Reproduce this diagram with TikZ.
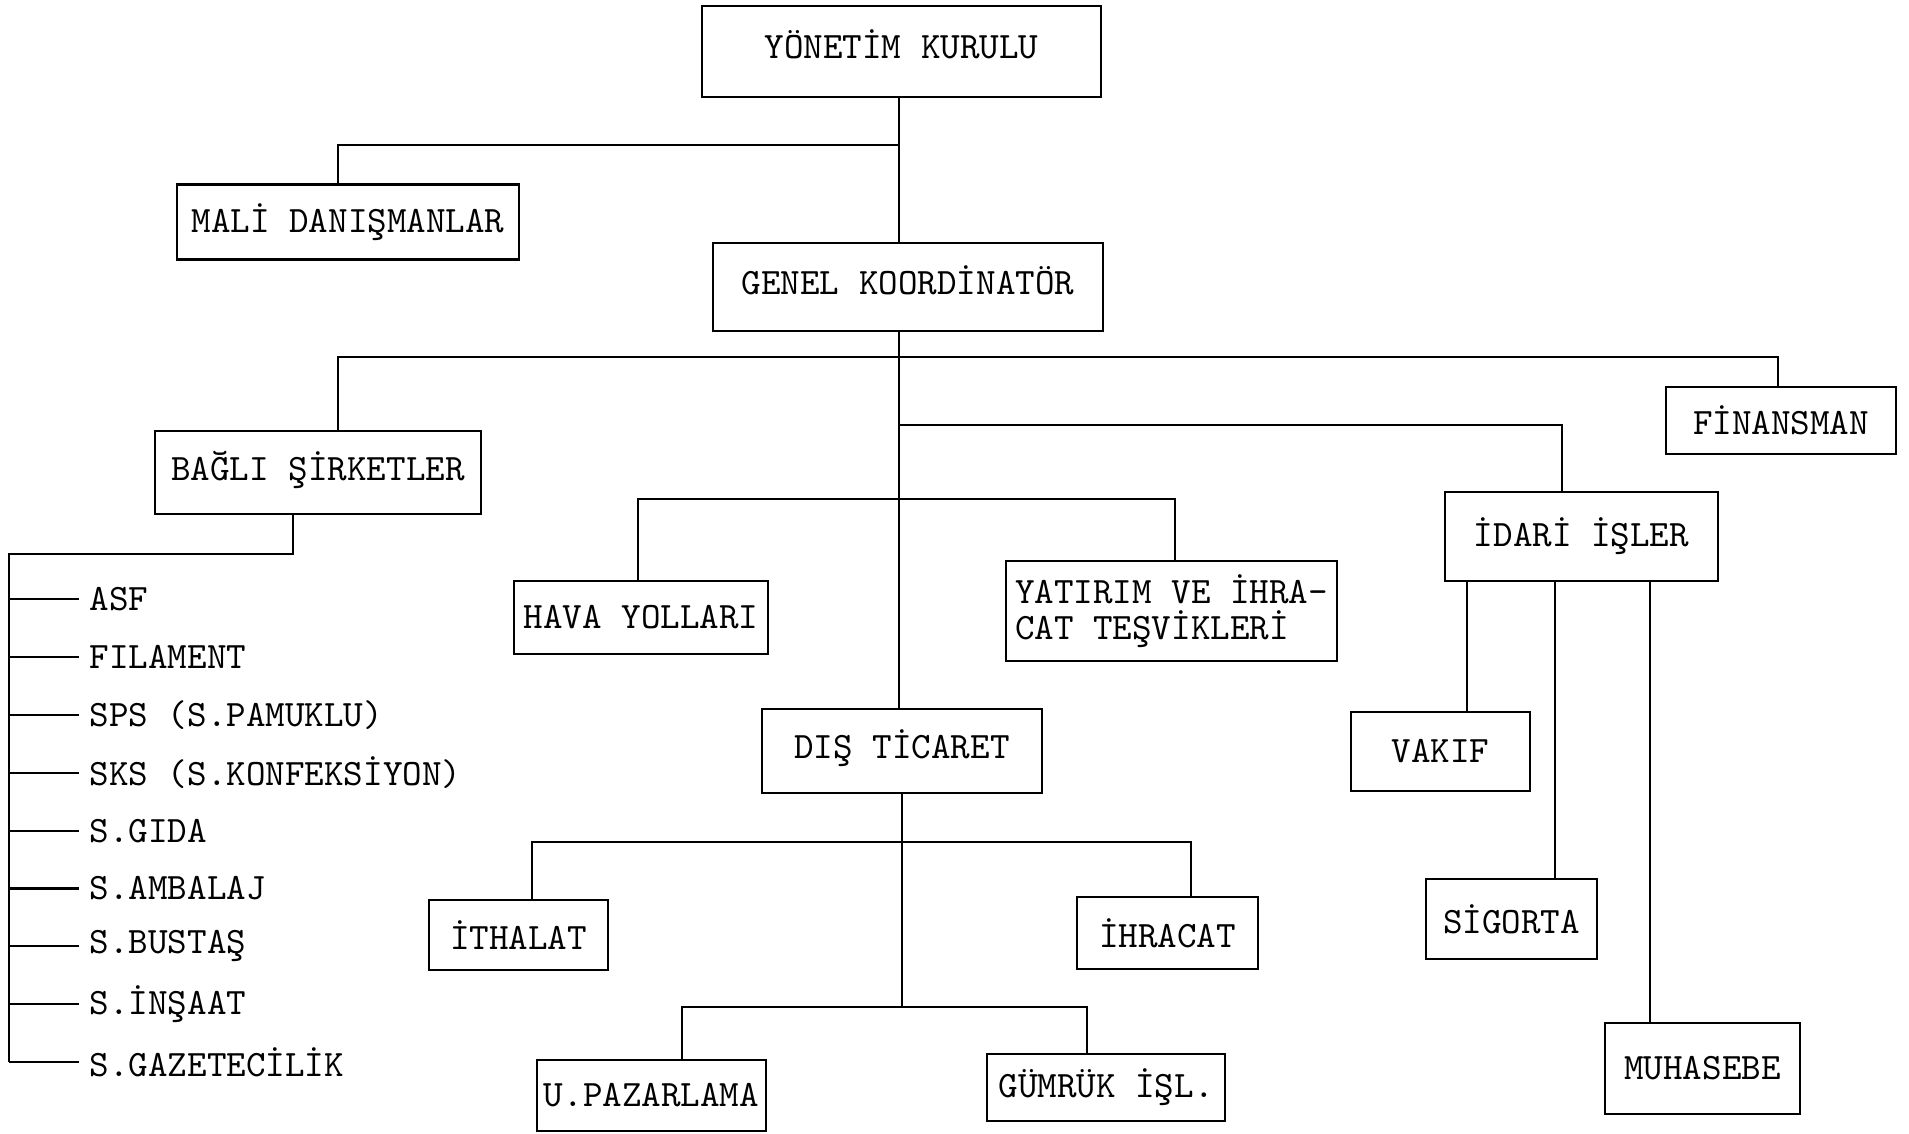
\documentclass[tikz,border=0pt]{standalone}
\usepackage{fontspec}
\usepackage{tikz}
\usetikzlibrary{calc, positioning}

\tikzset{
  kutu/.style={draw, line width=0.6pt, inner sep=0pt, align=center,
    font=\ttfamily\fontsize{10.6}{13}\selectfont},
  yukari/.style={text depth=4pt},
  liste/.style={anchor=west, inner sep=1mm,
    font=\ttfamily\fontsize{10.6}{13}\selectfont},
  hat/.style={line width=0.6pt}
}

\begin{document}
\begin{tikzpicture}[x=0.1mm, y=-0.1mm]
    \useasboundingbox (0,0) rectangle (1909,1133);

    % 1. Kutular
    \node[kutu, yukari, minimum width=39.9mm, minimum height=9.1mm] (yk) at (901.5,51.5) {YÖNETİM KURULU};
    \node[kutu, minimum width=34.2mm, minimum height=7.5mm] (mali) at (348,222) {MALİ DANIŞMANLAR};
    \node[kutu, yukari, minimum width=39mm, minimum height=8.8mm] (gk) at (908,287) {GENEL KOORDİNATÖR};
    \node[kutu, yukari, minimum width=32.6mm, minimum height=8.3mm] (bagli) at (318,472.5) {BAĞLI ŞİRKETLER};
    \node[kutu, minimum width=23mm, minimum height=6.7mm] (fin) at (1781,420.5) {FİNANSMAN};
    \node[kutu, minimum width=25.4mm, minimum height=7.3mm] (hava) at (641,617.5) {HAVA YOLLARI};
    \node[kutu, minimum width=33.1mm, minimum height=10mm, align=left,
          font=\ttfamily\fontsize{10.6}{10.2}\selectfont] (yat) at (1171.5,611) {YATIRIM VE İHRA-\\CAT TEŞVİKLERİ};
    \node[kutu, minimum width=27.3mm, minimum height=8.9mm] (idari) at (1581.5,536.5) {İDARİ İŞLER};
    \node[kutu, minimum width=17.9mm, minimum height=7.9mm] (vakif) at (1440.5,751.5) {VAKIF};
    \node[kutu, minimum width=17.1mm, minimum height=8mm] (sig) at (1511.5,919) {SİGORTA};
    \node[kutu, minimum width=19.5mm, minimum height=9.1mm] (muh) at (1702.5,1068.5) {MUHASEBE};
    \node[kutu, yukari, minimum width=28mm, minimum height=8.4mm] (dis) at (902,751) {DIŞ TİCARET};
    \node[kutu, minimum width=17.9mm, minimum height=7mm] (ith) at (518.5,935) {İTHALAT};
    \node[kutu, minimum width=18.1mm, minimum height=7.2mm] (ihr) at (1167.5,933) {İHRACAT};
    \node[kutu, minimum width=22.9mm, minimum height=7.1mm] (upaz) at (651.5,1095.5) {U.PAZARLAMA};
    \node[kutu, minimum width=23.8mm, minimum height=6.7mm] (gum) at (1106,1087.5) {GÜMRÜK İŞL.};

    % 2. Baglanti noktalari
    \coordinate (b1) at (899,145);
    \coordinate (b2) at (899,357);
    \coordinate (b3) at (899,425);
    \coordinate (b4) at (899,499);
    \coordinate (b5) at (902,842);
    \coordinate (b6) at (902,1007);
    \coordinate (l0) at (9,554);

    % 3. Cizgiler
    \draw[hat] (yk.south -| b1) -- (gk.north -| b1);
    \draw[hat] (b1) -| (mali.north -| 338,0);
    \draw[hat] (gk.south -| b2) -- (dis.north -| b2);
    \draw[hat] (bagli.north -| 338,0) |- (b2) -| (fin.north -| 1778,0);
    \draw[hat] (b3) -| (idari.north -| 1562,0);
    \draw[hat] (hava.north -| 638,0) |- (b4) -| (yat.north -| 1175,0);
    \draw[hat] (dis.south) -- (dis.south |- b6);
    \draw[hat] (ith.north -| 532,0) |- (b5) -| (ihr.north -| 1191,0);
    \draw[hat] (upaz.north -| 682,0) |- (b6) -| (gum.north -| 1087,0);
    \draw[hat] (idari.south -| 1467,0) -- (vakif.north -| 1467,0);
    \draw[hat] (idari.south -| 1555,0) -- (sig.north -| 1555,0);
    \draw[hat] (idari.south -| 1650,0) -- (muh.north -| 1650,0);

    % 4. Bagli sirketler listesi
    \foreach \ad [count=\i] in {ASF,FILAMENT,SPS (S.PAMUKLU),SKS (S.KONFEKSİYON),S.GIDA,S.AMBALAJ,S.BUSTAŞ,S.İNŞAAT,S.GAZETECİLİK}{
        \node[liste] (s\i) at (79,{541.1+57.9*\i}) {\ad};
        \draw[hat] (l0 |- s\i.west) -- (s\i.west);
    }
    \draw[hat] (bagli.south -| 293,0) |- (l0) -- (l0 |- s9.west);

\end{tikzpicture}
\end{document}
